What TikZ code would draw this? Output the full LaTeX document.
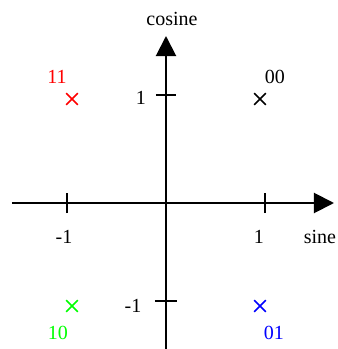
\documentclass[tikz,border=0pt]{standalone}
\usepackage{fontspec}
\setmainfont{Liberation Serif}
\usepackage{xcolor}
\usepackage{tikz}
\usetikzlibrary{arrows.meta,shapes.misc,positioning}

\tikzset{
  axis/.style={line width=2pt, -{Triangle[length=20pt,width=20pt]}},
  tick/.style={line width=2pt},
  symb/.style={cross out, draw, minimum size=10pt, inner sep=0pt, line width=1.6pt},
}

\begin{document}
\begin{tikzpicture}[x=1pt, y=1pt, font=\fontsize{20}{24}\selectfont]
    \useasboundingbox (-166,-146) rectangle (172,203);

    % axes
    \coordinate (xmin) at (-154,0);
    \coordinate (xmax) at (168,0);
    \coordinate (ymin) at (0,-146);
    \coordinate (ymax) at (0,167);
    \draw[axis] (xmin) -- (xmax);
    \draw[axis] (ymin) -- (ymax);
    \node (xname) at (154,-34) {sine};
    \node (yname) at (6,184) {cosine};

    % ticks
    \coordinate (xm) at (-99,0);
    \coordinate (xp) at (99,0);
    \coordinate (ym) at (0,-98);
    \coordinate (yp) at (0,108);
    \draw[tick] ([yshift=-10pt]xm) -- ([yshift=10pt]xm);
    \draw[tick] ([yshift=-10pt]xp) -- ([yshift=10pt]xp);
    \draw[tick] ([xshift=-11pt]ym) -- ([xshift=11pt]ym);
    \draw[tick] ([xshift=-10pt]yp) -- ([xshift=10pt]yp);
    \node (lxm) at (-102,-34) {-1};
    \node (lxp) at (93,-34) {1};
    \node (lym) at (-33,-103) {-1};
    \node (lyp) at (-25,105) {1};

    % symbols
    \node[symb, draw=red] (s11) at (-94,104) {};
    \node[symb, draw=black] (s00) at (94,104) {};
    \node[symb, draw=green] (s10) at (-94,-103) {};
    \node[symb, draw=blue] (s01) at (94,-103) {};
    \node[red] (t11) at (-109,126) {11};
    \node (t00) at (109,126) {00};
    \node[green] (t10) at (-108,-130) {10};
    \node[blue] (t01) at (108,-130) {01};
\end{tikzpicture}
\end{document}
